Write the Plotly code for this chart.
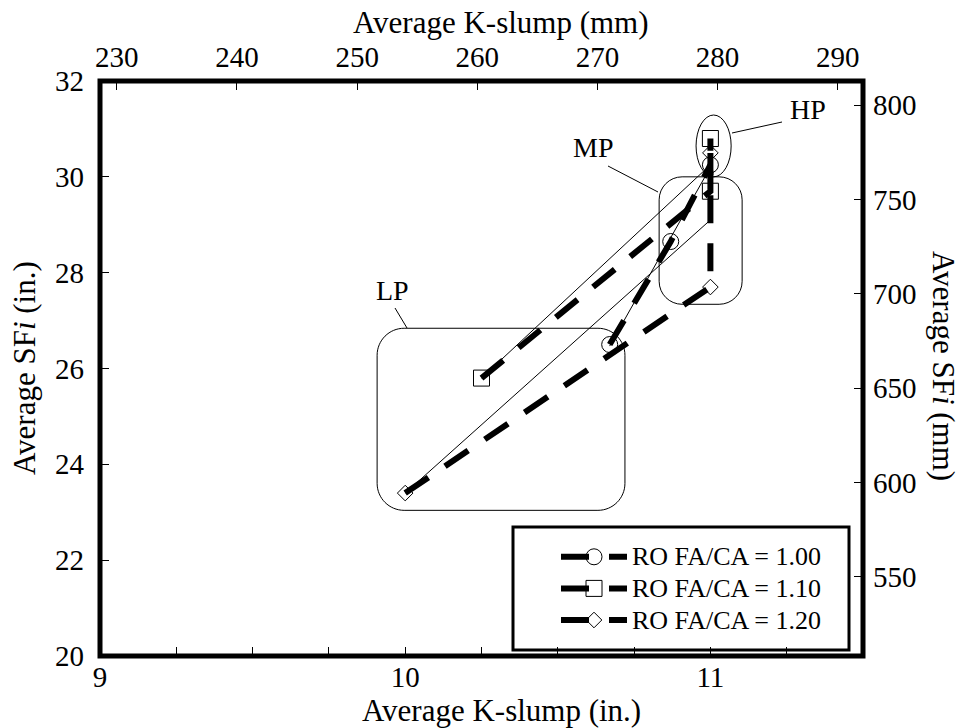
import numpy as np
import plotly.graph_objects as go

# ---------------- data ----------------
series_names = ["RO FA/CA = 1.00", "RO FA/CA = 1.10", "RO FA/CA = 1.20"]
slump_in_100 = [10.67, 10.87, 11.00]
sfi_in_100 = [26.50, 28.65, 30.25]
slump_in_110 = [10.25, 11.00, 11.00]
sfi_in_110 = [25.80, 29.70, 30.80]
slump_in_120 = [10.00, 11.00, 11.00]
sfi_in_120 = [23.40, 27.70, 30.50]
marker_symbols = ["circle-open", "square-open", "diamond-open"]
marker_sizes = [16, 16, 12]

group_labels = ["LP", "MP", "HP"]

x_ticks_in = [9, 10, 11]
y_ticks_in = [20, 22, 24, 26, 28, 30, 32]
x_ticks_mm = [230, 240, 250, 260, 270, 280, 290]
y_ticks_mm = [550, 600, 650, 700, 750, 800]
IN_TO_MM = 25.4
x_range_in = [9, 11.5]
y_range_in = [20, 32]

FONT = "Liberation Serif"

# plot-area pixel frame (for placing decorations)
PL, PR, PT, PB = 100, 863, 81, 656
W, H = 960, 728


def px(xp):
    return (xp - PL) / (PR - PL)


def py(yp):
    return (PB - yp) / (PB - PT)


xs_all = [slump_in_100, slump_in_110, slump_in_120]
ys_all = [sfi_in_100, sfi_in_110, sfi_in_120]

fig = go.Figure()

# thin linear trend lines
for xs, ys in zip(xs_all, ys_all):
    k, b = np.polyfit(xs, ys, 1)
    xe = [min(xs), max(xs)]
    fig.add_trace(go.Scatter(x=xe, y=[k * v + b for v in xe], mode="lines",
                             line=dict(color="black", width=1),
                             showlegend=False, hoverinfo="skip"))

# thick dashed series with open markers
for name, xs, ys, sym, ms in zip(series_names, xs_all, ys_all, marker_symbols, marker_sizes):
    fig.add_trace(go.Scatter(
        x=xs, y=ys, mode="lines+markers",
        name=f'<span style="font-size:26px">{name}</span>',
        line=dict(color="black", width=6, dash="28px,20px"),
        marker=dict(symbol=sym, size=ms, color="black", line=dict(width=1, color="black")),
    ))

# same data in millimetres on the secondary (top / right) axes, invisible
fig.add_trace(go.Scatter(
    x=[v * IN_TO_MM for xs in xs_all for v in xs],
    y=[v * IN_TO_MM for ys in ys_all for v in ys],
    xaxis="x2", yaxis="y2", mode="markers", marker=dict(opacity=0),
    showlegend=False, hoverinfo="skip"))

# ---------------- group outlines ----------------
def rounded_rect(x0, x1, y0, y1, r_px):
    rx = r_px * (x_range_in[1] - x_range_in[0]) / (PR - PL)
    ry = r_px * (y_range_in[1] - y_range_in[0]) / (PB - PT)
    k = 0.5523
    p = []
    p.append(f"M{x0+rx},{y1}")
    p.append(f"L{x1-rx},{y1}")
    p.append(f"C{x1-rx+k*rx},{y1} {x1},{y1-ry+k*ry} {x1},{y1-ry}")
    p.append(f"L{x1},{y0+ry}")
    p.append(f"C{x1},{y0+ry-k*ry} {x1-rx+k*rx},{y0} {x1-rx},{y0}")
    p.append(f"L{x0+rx},{y0}")
    p.append(f"C{x0+rx-k*rx},{y0} {x0},{y0+ry-k*ry} {x0},{y0+ry}")
    p.append(f"L{x0},{y1-ry}")
    p.append(f"C{x0},{y1-ry+k*ry} {x0+rx-k*rx},{y1} {x0+rx},{y1}")
    p.append("Z")
    return " ".join(p)


shapes = []
shapes.append(dict(type="path", xref="x", yref="y",
                   path=rounded_rect(9.908, 10.72, 23.04, 26.84, 27),
                   line=dict(color="black", width=1)))
shapes.append(dict(type="path", xref="x", yref="y",
                   path=rounded_rect(10.832, 11.104, 27.34, 30.0, 23),
                   line=dict(color="black", width=1)))
shapes.append(dict(type="circle", xref="x", yref="y",
                   x0=10.953, x1=11.068, y0=30.0, y1=31.29,
                   line=dict(color="black", width=1)))

# callout lines
for (xa, ya, xb, yb) in [(395, 308, 407, 328), (608, 166, 658, 192), (732, 133, 782, 122)]:
    shapes.append(dict(type="line", xref="paper", yref="paper",
                       x0=px(xa), y0=py(ya), x1=px(xb), y1=py(yb),
                       line=dict(color="black", width=1)))

# legend box
shapes.append(dict(type="rect", xref="paper", yref="paper",
                   x0=px(513), x1=px(849), y0=py(650), y1=py(527),
                   line=dict(color="black", width=3), fillcolor="white", layer="below"))

# plot frame
shapes.append(dict(type="rect", xref="paper", yref="paper", x0=0, x1=1, y0=0, y1=1,
                   line=dict(color="black", width=5), layer="above"))

annotations = []
for lab, (xa, ya) in zip(group_labels, [(392, 290), (593, 148), (808, 110)]):
    annotations.append(dict(text=lab, xref="paper", yref="paper", x=px(xa), y=py(ya),
                            showarrow=False, font=dict(family=FONT, size=28, color="black"),
                            xanchor="center", yanchor="middle"))

title_font = dict(family=FONT, size=31, color="black")
annotations.append(dict(text="Average K-slump (in.)", xref="paper", yref="paper",
                        x=px(501), y=py(711), showarrow=False, font=title_font,
                        xanchor="center", yanchor="middle"))
annotations.append(dict(text="Average K-slump (mm)", xref="paper", yref="paper",
                        x=px(501), y=py(22), showarrow=False, font=title_font,
                        xanchor="center", yanchor="middle"))
annotations.append(dict(text="Average SF<i>i</i> (in.)", xref="paper", yref="paper",
                        x=px(24), y=py(368), showarrow=False, font=title_font,
                        textangle=-90, xanchor="center", yanchor="middle"))
annotations.append(dict(text="Average SF<i>i</i> (mm)", xref="paper", yref="paper",
                        x=px(944), y=py(366), showarrow=False, font=title_font,
                        textangle=90, xanchor="center", yanchor="middle"))

tick_font = dict(family=FONT, size=29, color="black")
common = dict(showgrid=False, zeroline=False, showline=False, ticks="inside",
              ticklen=9, tickwidth=1, tickcolor="black", tickfont=tick_font)

fig.update_layout(
    width=W, height=H,
    margin=dict(l=PL, r=W - PR, t=PT, b=H - PB, pad=0),
    paper_bgcolor="white", plot_bgcolor="white",
    font=dict(family=FONT, color="black"),
    xaxis=dict(range=x_range_in, tickvals=x_ticks_in, ticktext=[str(v) for v in x_ticks_in],
               minor=dict(dtick=0.25, tick0=9, ticks="inside", ticklen=9, tickcolor="black",
                          tickwidth=1, showgrid=False),
               ticklabelstandoff=1, **common),
    xaxis2=dict(range=[x_range_in[0] * IN_TO_MM, x_range_in[1] * IN_TO_MM],
                tickvals=x_ticks_mm, overlaying="x", side="top",
                ticklabelstandoff=7, **common),
    yaxis=dict(range=y_range_in, tickvals=y_ticks_in, ticklabelstandoff=15, **common),
    yaxis2=dict(range=[y_range_in[0] * IN_TO_MM, y_range_in[1] * IN_TO_MM],
                tickvals=y_ticks_mm, overlaying="y", side="right",
                ticklabelstandoff=9, **common),
    shapes=shapes,
    annotations=annotations,
    showlegend=True,
    legend=dict(x=px(556), y=py(536), xanchor="left", yanchor="top",
                bgcolor="rgba(0,0,0,0)", borderwidth=0,
                font=dict(family=FONT, size=22, color="black"),
                itemwidth=66, tracegroupgap=0),
)

fig.write_html("out.html")
